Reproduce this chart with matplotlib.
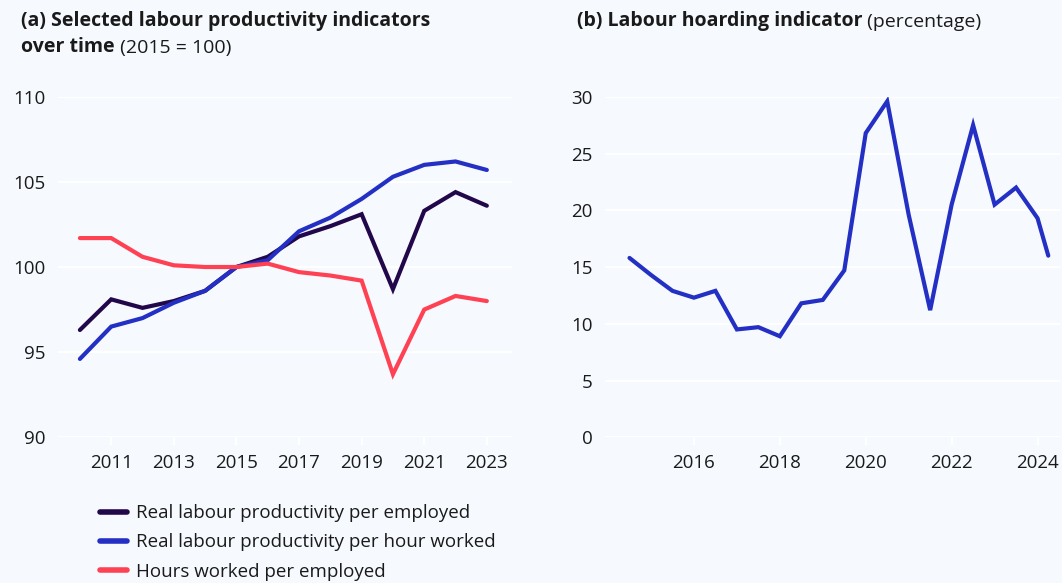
import matplotlib
matplotlib.use("Agg")
import matplotlib.pyplot as plt
from matplotlib.lines import Line2D

plt.rcParams['font.family'] = ['Open Sans', 'DejaVu Sans']

# panel (a): annual indices, 2015 = 100
years_a = [2010, 2011, 2012, 2013, 2014, 2015, 2016, 2017, 2018, 2019, 2020, 2021, 2022, 2023]
prod_per_employed = [96.3, 98.1, 97.6, 98.0, 98.6, 100.0, 100.6, 101.8, 102.4, 103.1, 98.7, 103.3, 104.4, 103.6]
prod_per_hour = [94.6, 96.5, 97.0, 97.9, 98.6, 100.0, 100.4, 102.1, 102.9, 104.0, 105.3, 106.0, 106.2, 105.7]
hours_per_employed = [101.7, 101.7, 100.6, 100.1, 100.0, 100.0, 100.2, 99.7, 99.5, 99.2, 93.7, 97.5, 98.3, 98.0]
labels_a = ["Real labour productivity per employed",
            "Real labour productivity per hour worked",
            "Hours worked per employed"]

# panel (b): half-yearly labour hoarding indicator
periods_b = [2014.5, 2015.0, 2015.5, 2016.0, 2016.5, 2017.0, 2017.5, 2018.0, 2018.5, 2019.0,
             2019.5, 2020.0, 2020.5, 2021.0, 2021.5, 2022.0, 2022.5, 2023.0, 2023.5, 2024.0, 2024.25]
hoarding = [15.8, 14.3, 12.9, 12.3, 12.9, 9.5, 9.7, 8.9, 11.8, 12.1,
            14.7, 26.8, 29.6, 19.6, 11.2, 20.5, 27.5, 20.5, 22.0, 19.3, 16.0]

bg = "#f6fafe"
dark = "#22084a"
blue = "#2430c4"
red = "#ff4154"
txt = "#1a1a1a"
fs = 13.5

fig = plt.figure(figsize=(10.62, 5.83), dpi=100)
fig.patch.set_facecolor(bg)

ax1 = fig.add_axes([0.0546, 0.250, 0.4274, 0.584])
ax2 = fig.add_axes([0.5697, 0.250, 0.4283, 0.584])

for ax in (ax1, ax2):
    ax.set_facecolor(bg)
    for s in ax.spines.values():
        s.set_visible(False)
    ax.grid(axis='y', color='white', linewidth=1.5)
    ax.set_axisbelow(True)
    ax.tick_params(axis='y', length=0, labelsize=fs, labelcolor=txt, pad=9)
    ax.tick_params(axis='x', length=6, width=1.5, color='white', labelsize=fs, labelcolor=txt, pad=6)

ax1.plot(years_a, prod_per_employed, color=dark, lw=3, solid_capstyle='round', solid_joinstyle='miter')
ax1.plot(years_a, prod_per_hour, color=blue, lw=3, solid_capstyle='round', solid_joinstyle='miter')
ax1.plot(years_a, hours_per_employed, color=red, lw=3, solid_capstyle='round', solid_joinstyle='miter')
ax1.set_ylim(90, 110)
ax1.set_yticks([90, 95, 100, 105, 110])
ax1.set_xlim(2009.3, 2023.8)
ax1.set_xticks([2011, 2013, 2015, 2017, 2019, 2021, 2023])

ax2.plot(periods_b, hoarding, color=blue, lw=3, solid_capstyle='round', solid_joinstyle='miter')
ax2.set_ylim(0, 30)
ax2.set_yticks([0, 5, 10, 15, 20, 25, 30])
ax2.set_xlim(2013.93, 2024.52)
ax2.set_xticks([2016, 2018, 2020, 2022, 2024])

# legend below panel (a)
handles = [Line2D([], [], color=c, lw=4, solid_capstyle='round') for c in (dark, blue, red)]
fig.legend(handles, labels_a, loc='upper left', bbox_to_anchor=(0.087, 0.148),
           frameon=False, fontsize=fs, handlelength=1.45, handletextpad=0.5,
           labelspacing=0.6, labelcolor=txt, borderaxespad=0)

# titles, bold part followed by regular part
t1 = fig.text(21 / 1062, 1 - 31 / 583, "(a) Selected labour productivity indicators",
              fontsize=14, fontweight='bold', color=txt, va='bottom')
t2 = fig.text(21 / 1062, 1 - 57 / 583, "over time", fontsize=14, fontweight='bold', color=txt, va='bottom')
ax1.annotate(" (2015 = 100)", xy=(1, 0), xycoords=t2, fontsize=14, color=txt,
             va='bottom', ha='left', annotation_clip=False)

t3 = fig.text(577 / 1062, 1 - 31 / 583, "(b) Labour hoarding indicator",
              fontsize=14, fontweight='bold', color=txt, va='bottom')
ax2.annotate(" (percentage)", xy=(1, 0), xycoords=t3, fontsize=14, color=txt,
             va='bottom', ha='left', annotation_clip=False)

fig.savefig("out.png", dpi=100, facecolor=bg)
